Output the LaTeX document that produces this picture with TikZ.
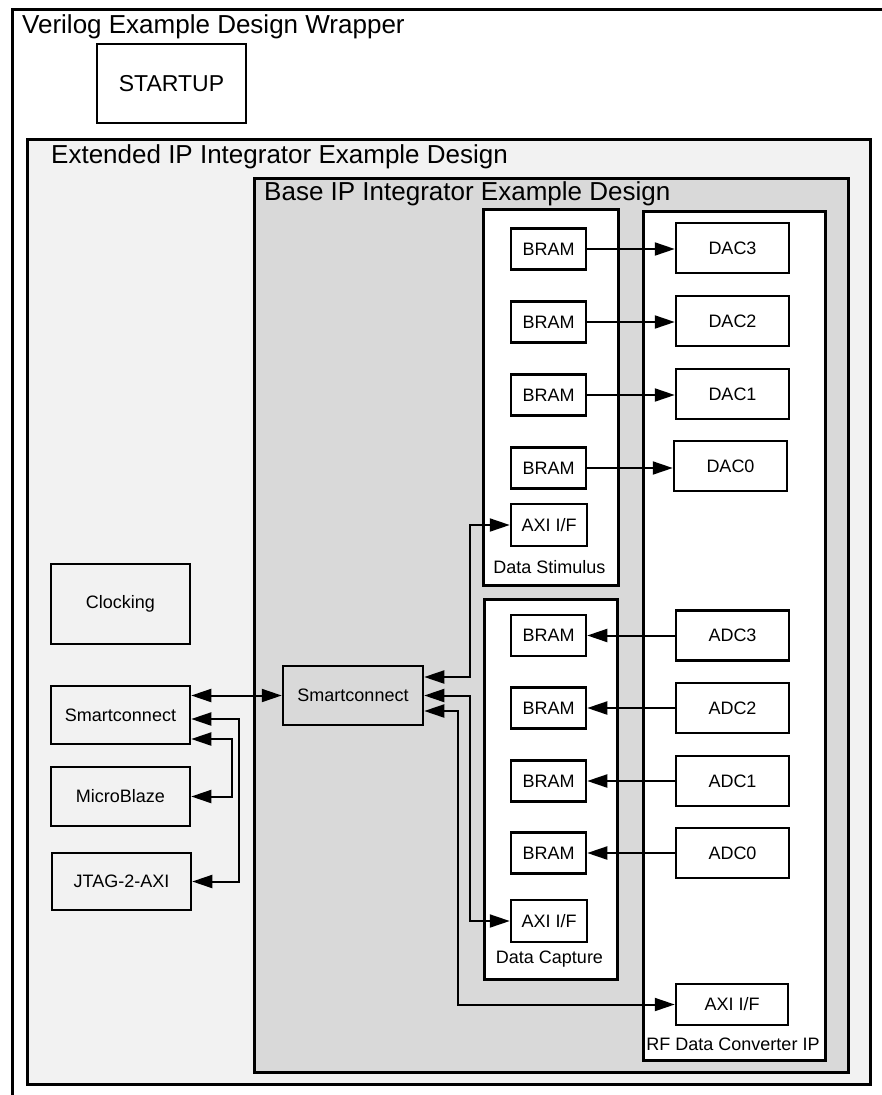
\documentclass[tikz,border=0pt]{standalone}
\usepackage{fontspec}
\setmainfont{Liberation Sans}
\usepackage{xcolor}
\usetikzlibrary{arrows.meta,positioning}
\definecolor{extgray}{RGB}{242,242,242}
\definecolor{basegray}{RGB}{217,217,217}

\begin{document}
\begin{tikzpicture}[
    x=1pt,y=-1pt,
    area/.style={rectangle,draw,line width=2.5pt,anchor=north west,inner sep=0pt},
    ttl/.style={anchor=base west,inner sep=0pt,font=\fontsize{26}{30}\selectfont},
    blk/.style={rectangle,draw,line width=2.5pt,fill=white,inner sep=0pt,
                font=\fontsize{18}{21}\selectfont},
    lbl/.style={anchor=base,inner sep=0pt,font=\fontsize{18}{21}\selectfont},
    ar/.style={-{Triangle[length=20pt,width=13pt]},line width=2pt},
    biar/.style={{Triangle[length=20pt,width=13pt]}-{Triangle[length=20pt,width=13pt]},line width=2pt}
  ]
  \useasboundingbox (0,0) rectangle (882,1095);
  \clip (0,0) rectangle (882,1095);

  % nested design areas
  \node[area,fill=white,minimum width=900,minimum height=1100] (wrap) at (11,8) {};
  \node[area,fill=extgray,minimum width=843,minimum height=945] (ext) at (26,138) {};
  \node[area,fill=basegray,minimum width=594,minimum height=894] (base) at (253,177) {};
  \node[area,fill=white,minimum width=135,minimum height=376] (stim) at (482,208) {};
  \node[area,fill=white,minimum width=133,minimum height=380] (capt) at (483,598) {};
  \node[area,fill=white,minimum width=182,minimum height=849] (rfdc) at (642,210) {};

  \node[ttl] (wraptxt) at (22,33) {Verilog Example Design Wrapper};
  \node[ttl] (exttxt) at (51,163) {Extended IP Integrator Example Design};
  \node[ttl] (basetxt) at (264,200) {Base IP Integrator Example Design};
  \node[lbl] (stimtxt) at (549.5,573) {Data Stimulus};
  \node[lbl] (capttxt) at (549.5,963) {Data Capture};
  \node[lbl] (rfdctxt) at (733,1050) {RF Data Converter IP};

  % wrapper and extended blocks
  \node[blk,minimum width=149,minimum height=79,font=\fontsize{23}{26}\selectfont] (startup) at (171.5,83.5) {STARTUP};
  \node[blk,fill=extgray,minimum width=139,minimum height=80] (clk) at (120.5,604) {Clocking};
  \node[blk,fill=extgray,minimum width=139,minimum height=58] (sc1) at (120.5,715) {Smartconnect};
  \node[blk,fill=extgray,minimum width=139,minimum height=59] (mb) at (120.5,796.5) {MicroBlaze};
  \node[blk,fill=extgray,minimum width=139,minimum height=57] (jtag) at (121.5,881.5) {JTAG-2-AXI};

  % base blocks
  \node[blk,fill=basegray,minimum width=140,minimum height=59] (sc0) at (353,695.5) {Smartconnect};

  \foreach \i/\y in {3/249,2/322,1/395,0/468}{
    \node[blk,minimum width=75,minimum height=41] (sb\i) at (548.5,\y) {BRAM};
  }
  \foreach \i/\y in {3/248,2/321,1/394}{
    \node[blk,minimum width=113,minimum height=50] (dac\i) at (732.5,\y) {DAC\i};
  }
  \node[blk,minimum width=113,minimum height=50] (dac0) at (730.5,466) {DAC0};
  \node[blk,minimum width=76,minimum height=42] (saxi) at (549,525) {AXI I/F};

  \foreach \i/\y in {3/635.5,2/708,1/781,0/853}{
    \node[blk,minimum width=75,minimum height=41] (cb\i) at (548.5,\y) {BRAM};
    \node[blk,minimum width=113,minimum height=50] (adc\i) at (732.5,\y) {ADC\i};
  }
  \node[blk,minimum width=76,minimum height=42] (caxi) at (549,921) {AXI I/F};
  \node[blk,minimum width=112,minimum height=41] (raxi) at (732,1004.5) {AXI I/F};

  % data paths
  \foreach \i in {0,...,3}{
    \draw[ar] (sb\i.east) -- (sb\i.east -| dac\i.west);
    \draw[ar] (adc\i.west) -- (cb\i.west -| cb\i.east);
  }

  % AXI paths
  \draw[biar] (sc0.west) -- (sc0.west -| sc1.east);
  \draw[biar] ([yshift=-4pt]sc1.east) -- ++(48,0) |- (jtag.east);
  \draw[biar] ([yshift=-24pt]sc1.east) -- ++(41,0) |- (mb.east);
  \draw[biar] ([yshift=18.5pt]sc0.east) -- ++(46,0) |- (saxi.west);
  \draw[biar] (sc0.east) -- ++(46,0) |- (caxi.west);
  \draw[biar] ([yshift=-15.5pt]sc0.east) -- ++(34,0) |- (raxi.west);
\end{tikzpicture}
\end{document}
